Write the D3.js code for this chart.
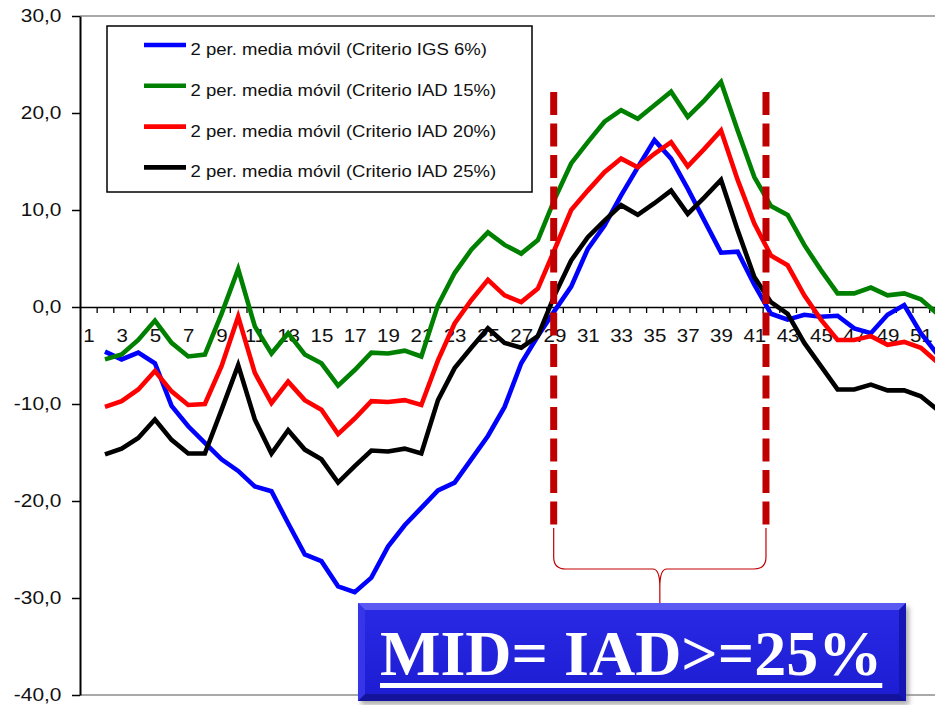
<!DOCTYPE html>
<html>
<head>
<meta charset="utf-8">
<script src="https://cdn.jsdelivr.net/npm/d3@7/dist/d3.min.js"></script>
<style>
  html, body { margin: 0; padding: 0; background: #fff; }
  svg { display: block; }
</style>
</head>
<body>
<svg id="chart" width="935" height="705"></svg>
<script>
// Weeks on the x axis
const categories = [1,2,3,4,5,6,7,8,9,10,11,12,13,14,15,16,17,18,19,20,21,22,23,24,25,26,
  27,28,29,30,31,32,33,34,35,36,37,38,39,40,41,42,43,44,45,46,47,48,49,50,51,52];
const xTickLabels = [1,3,5,7,9,11,13,15,17,19,21,23,25,27,29,31,33,35,37,39,41,43,45,47,49,51];
const yTicks = [-40, -30, -20, -10, 0, 10, 20, 30];

// Each series starts at week 2 (two-period moving average)
const firstWeek = 2;
const igs6 = [-4.6,-5.4,-4.7,-5.8,-10.2,-12.3,-14.0,-15.7,-16.9,-18.5,-19.0,-22.3,-25.5,-26.2,-28.8,-29.4,
  -27.9,-24.7,-22.5,-20.7,-18.9,-18.1,-15.7,-13.3,-10.3,-5.8,-3.0,-0.4,2.1,6.0,8.4,11.5,14.4,17.2,15.3,
  12.2,8.9,5.6,5.7,2.3,-0.7,-1.3,-0.8,-1.0,-0.9,-2.2,-2.7,-0.8,0.2,-2.7,-4.9];
const iad15 = [-5.4,-4.9,-3.4,-1.4,-3.7,-5.1,-4.9,-0.7,3.9,-2.0,-4.8,-2.7,-4.9,-5.8,-8.1,-6.5,-4.7,-4.8,
  -4.5,-5.1,0.2,3.5,5.9,7.7,6.4,5.5,6.9,11.1,14.8,17.0,19.1,20.3,19.4,20.8,22.2,19.6,21.3,23.2,18.2,13.4,
  10.4,9.5,6.4,3.8,1.4,1.4,2.0,1.2,1.4,0.8,-0.7];
const iad20 = [-10.3,-9.7,-8.5,-6.6,-8.7,-10.1,-10.0,-6.1,-1.0,-6.8,-9.9,-7.7,-9.6,-10.6,-13.1,-11.5,
  -9.7,-9.8,-9.6,-10.1,-5.5,-1.7,0.7,2.8,1.2,0.5,1.9,5.9,10.0,12.0,13.9,15.3,14.4,15.8,17.0,14.5,16.3,18.2,
  13.1,8.6,5.3,4.3,1.2,-1.3,-3.4,-3.4,-3.0,-3.9,-3.6,-4.2,-5.7];
const iad25 = [-15.2,-14.6,-13.5,-11.6,-13.7,-15.1,-15.1,-10.6,-6.0,-11.6,-15.1,-12.7,-14.7,-15.7,-18.1,
  -16.4,-14.8,-14.9,-14.6,-15.1,-9.6,-6.3,-4.2,-2.2,-3.7,-4.2,-3.0,1.2,4.8,7.2,8.9,10.5,9.5,10.7,12.0,9.6,
  11.3,13.1,7.9,3.1,0.5,-0.7,-3.7,-6.1,-8.5,-8.5,-8.0,-8.6,-8.6,-9.2,-10.6];

const seriesNames = [
  "2 per. media móvil (Criterio IGS 6%)",
  "2 per. media móvil (Criterio IAD 15%)",
  "2 per. media móvil (Criterio IAD 20%)",
  "2 per. media móvil (Criterio IAD 25%)"
];
const seriesColors = ["#0000ff", "#008000", "#ff0000", "#000000"];
const seriesValues = [igs6, iad15, iad20, iad25];

// Epidemic period bounds (in week units) and its caption
const midBounds = [28.95, 41.7];
const midCaption = "MID= IAD>=25%";

const svg = d3.select("#chart");
const W = 935, H = 705;
const plotLeft = 80, plotTop = 16, plotBottom = 695, bandW = 16.65;

const x = d3.scaleLinear()
  .domain([0.5, categories.length + 0.5])
  .range([plotLeft, plotLeft + bandW * categories.length]);
const y = d3.scaleLinear().domain([-40, 30]).range([plotBottom, plotTop]);

const sansFont = "'Liberation Sans', Arial, sans-serif";

// Plot area frame (top and bottom borders)
svg.append("line").attr("x1", plotLeft).attr("x2", W).attr("y1", plotTop).attr("y2", plotTop)
  .attr("stroke", "#8c8c8c").attr("stroke-width", 1.3);
svg.append("line").attr("x1", plotLeft).attr("x2", W).attr("y1", plotBottom).attr("y2", plotBottom)
  .attr("stroke", "#8c8c8c").attr("stroke-width", 1.3);

// Y axis
const yAxis = svg.append("g")
  .attr("transform", `translate(${plotLeft},0)`)
  .call(d3.axisLeft(y).tickValues(yTicks).tickSize(8).tickSizeOuter(0).tickPadding(8)
    .tickFormat(d => d.toFixed(1).replace(".", ",")));
yAxis.select(".domain").attr("stroke", "#000").attr("stroke-width", 2);
yAxis.selectAll(".tick line").attr("stroke", "#000").attr("stroke-width", 1.5);
yAxis.selectAll(".tick text")
  .attr("font-family", sansFont).attr("font-size", 18).attr("fill", "#111")
  .attr("transform", "scale(1.16,1)");

// X axis along zero: ticks at week boundaries
const boundaries = categories.map(c => c + 0.5);
const xAxis = svg.append("g")
  .attr("transform", `translate(0,${y(0)})`)
  .call(d3.axisBottom(x).tickValues(boundaries).tickSize(6).tickSizeOuter(0).tickFormat(""));
xAxis.select(".domain").attr("stroke", "#000").attr("stroke-width", 1.6);
xAxis.selectAll(".tick line").attr("stroke", "#000").attr("stroke-width", 1.3);

const xLabels = svg.append("g")
  .attr("transform", `translate(0,${y(0)})`)
  .call(d3.axisBottom(x).tickValues(xTickLabels).tickSize(0).tickPadding(22).tickFormat(d => String(d)));
xLabels.select(".domain").remove();
xLabels.selectAll(".tick text")
  .attr("font-family", sansFont).attr("font-size", 18).attr("fill", "#111")
  .attr("transform", "scale(1.14,1)");

// Series lines
const line = d3.line()
  .x((d, i) => x(firstWeek + i))
  .y(d => y(d));
seriesValues.forEach((vals, k) => {
  svg.append("path")
    .datum(vals)
    .attr("d", line)
    .attr("fill", "none")
    .attr("stroke", seriesColors[k])
    .attr("stroke-width", 4.6)
    .attr("stroke-linejoin", "miter");
});

// Epidemic period markers
const dashTop = 92, dashBottom = 528;
const xL = x(midBounds[0]), xR = x(midBounds[1]);
svg.selectAll(".mid-mark")
  .data(midBounds)
  .join("line")
  .attr("class", "mid-mark")
  .attr("x1", d => x(d)).attr("x2", d => x(d))
  .attr("y1", dashTop).attr("y2", dashBottom)
  .attr("stroke", "#c00000")
  .attr("stroke-width", 7)
  .attr("stroke-dasharray", "23,8.5");

// Curly brace under the period
const xC = (xL + xR) / 2, yh = 569, yb = 604;
const brace = d3.path();
brace.moveTo(xL, dashBottom);
brace.lineTo(xL, yh - 12);
brace.quadraticCurveTo(xL, yh, xL + 12, yh);
brace.lineTo(xC - 7, yh);
brace.quadraticCurveTo(xC, yh, xC, yh + 18);
brace.lineTo(xC, yb);
brace.moveTo(xR, dashBottom);
brace.lineTo(xR, yh - 12);
brace.quadraticCurveTo(xR, yh, xR - 12, yh);
brace.lineTo(xC + 7, yh);
brace.quadraticCurveTo(xC, yh, xC, yh + 18);
svg.append("path").attr("d", brace.toString())
  .attr("fill", "none").attr("stroke", "#c00000").attr("stroke-width", 1.2);

// Caption box with bevelled edges
const defs = svg.append("defs");
const blur = defs.append("filter").attr("id", "shadow").attr("x", "-10%").attr("y", "-10%")
  .attr("width", "130%").attr("height", "140%");
blur.append("feGaussianBlur").attr("stdDeviation", 2.5);
const grad = defs.append("linearGradient").attr("id", "boxFill")
  .attr("x1", 0).attr("y1", 0).attr("x2", 0).attr("y2", 1);
grad.append("stop").attr("offset", "0%").attr("stop-color", "#2a2ae6");
grad.append("stop").attr("offset", "100%").attr("stop-color", "#1c1cd2");

const bx = 358, by = 603, bw = 548, bh = 98, bev = 7;
const box = svg.append("g");
box.append("rect").attr("x", bx + 3).attr("y", by + 4).attr("width", bw).attr("height", bh)
  .attr("fill", "#777").attr("opacity", 0.6).attr("filter", "url(#shadow)");
box.append("rect").attr("x", bx).attr("y", by).attr("width", bw).attr("height", bh).attr("fill", "url(#boxFill)");
const bevels = [
  { pts: [[bx, by], [bx + bw, by], [bx + bw - bev, by + bev], [bx + bev, by + bev]], c: "#5a5af2" },
  { pts: [[bx, by + bh], [bx + bw, by + bh], [bx + bw - bev, by + bh - bev], [bx + bev, by + bh - bev]], c: "#13139c" },
  { pts: [[bx, by], [bx + bev, by + bev], [bx + bev, by + bh - bev], [bx, by + bh]], c: "#3636e8" },
  { pts: [[bx + bw, by], [bx + bw - bev, by + bev], [bx + bw - bev, by + bh - bev], [bx + bw, by + bh]], c: "#1616b4" }
];
box.selectAll("polygon").data(bevels).join("polygon")
  .attr("points", d => d.pts.map(p => p.join(",")).join(" "))
  .attr("fill", d => d.c);

const captionX = 380, captionBase = 675;
const cap = box.append("text")
  .attr("x", captionX).attr("y", captionBase)
  .attr("font-family", "'Liberation Serif', 'Times New Roman', serif")
  .attr("font-weight", "bold").attr("font-size", 64).attr("fill", "#fff")
  .text(midCaption);
const capW = cap.node().getComputedTextLength();
box.append("rect").attr("x", captionX).attr("y", captionBase + 8)
  .attr("width", capW).attr("height", 5).attr("fill", "#fff");

// Legend
const lg = svg.append("g");
lg.append("rect").attr("x", 107).attr("y", 26).attr("width", 425).attr("height", 166)
  .attr("fill", "#fff").attr("stroke", "#000").attr("stroke-width", 1.5);
const rowY = d => 45 + d * 40.8;
seriesNames.forEach((name, k) => {
  lg.append("line").attr("x1", 144).attr("x2", 186).attr("y1", rowY(k)).attr("y2", rowY(k))
    .attr("stroke", seriesColors[k]).attr("stroke-width", 4.6);
  lg.append("text")
    .attr("transform", `translate(190.5,${rowY(k) + 10}) scale(1.09,1)`)
    .attr("font-family", sansFont).attr("font-size", 17).attr("fill", "#111")
    .text(name);
});
</script>
</body>
</html>
